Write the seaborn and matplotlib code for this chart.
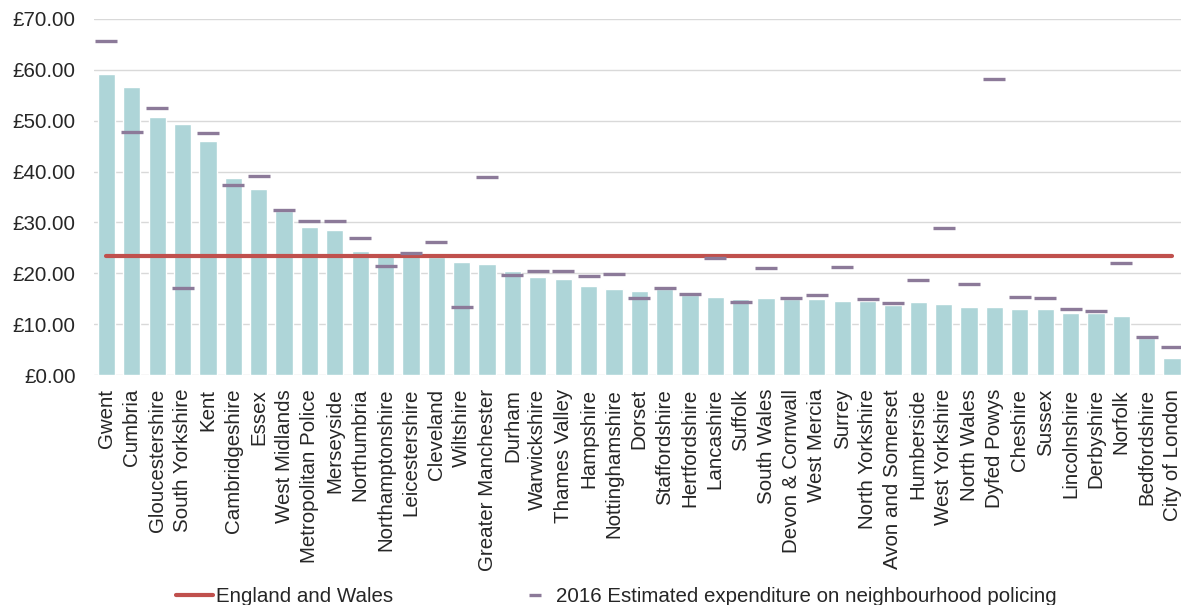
import matplotlib
matplotlib.use("Agg")
import matplotlib.pyplot as plt
import seaborn as sns
import pandas as pd
from matplotlib.ticker import FuncFormatter
from matplotlib.lines import Line2D

forces = ["Gwent", "Cumbria", "Gloucestershire", "South Yorkshire", "Kent",
          "Cambridgeshire", "Essex", "West Midlands", "Metropolitan Police",
          "Merseyside", "Northumbria", "Northamptonshire", "Leicestershire",
          "Cleveland", "Wiltshire", "Greater Manchester", "Durham",
          "Warwickshire", "Thames Valley", "Hampshire", "Nottinghamshire",
          "Dorset", "Staffordshire", "Hertfordshire", "Lancashire", "Suffolk",
          "South Wales", "Devon & Cornwall", "West Mercia", "Surrey",
          "North Yorkshire", "Avon and Somerset", "Humberside",
          "West Yorkshire", "North Wales", "Dyfed Powys", "Cheshire", "Sussex",
          "Lincolnshire", "Derbyshire", "Norfolk", "Bedfordshire",
          "City of London"]

spend_current = [59.2, 56.6, 50.7, 49.4, 46.1, 38.7, 36.6, 32.2, 29.2, 28.5,
                 24.4, 23.6, 23.5, 23.3, 22.3, 21.8, 20.5, 19.3, 18.9, 17.5,
                 16.9, 16.6, 16.9, 15.8, 15.4, 15.0, 15.1, 15.0, 14.9, 14.6,
                 14.6, 13.8, 14.4, 13.9, 13.4, 13.4, 13.0, 13.0, 12.3, 12.2,
                 11.6, 7.2, 3.4]

spend_2016 = [65.7, 47.8, 52.5, 17.2, 47.6, 37.4, 39.1, 32.5, 30.2, 30.2,
              26.9, 21.5, 23.9, 26.1, 13.3, 38.9, 19.7, 20.4, 20.4, 19.5,
              19.9, 15.1, 17.2, 16.0, 23.1, 14.4, 21.0, 15.1, 15.7, 21.3,
              14.9, 14.1, 18.7, 28.9, 17.9, 58.1, 15.4, 15.1, 13.0, 12.6,
              22.0, 7.5, 5.6]

england_wales = 23.5

series_labels = ["England and Wales",
                 "2016 Estimated expenditure on neighbourhood policing"]

df = pd.DataFrame({"force": forces, "current": spend_current,
                   "est2016": spend_2016,
                   "ew": [england_wales] * len(forces)})

sns.set_style("white")
plt.rcParams["font.family"] = ["Liberation Sans", "DejaVu Sans"]

BAR = "#AED5D8"
RED = "#C0504D"
PURPLE = "#8C7A99"
FS = 14.8

fig = plt.figure(figsize=(11.81, 6.05), dpi=100)
ax = fig.add_axes([93.8 / 1181, 0.380, (1184.7 - 93.8) / 1181, 0.5887])

sns.barplot(data=df, x="force", y="current", color=BAR, width=0.68,
            saturation=1, ax=ax, zorder=2)
sns.pointplot(data=df, x="force", y="ew", color=RED, markers="",
              linestyles="-", errorbar=None, ax=ax, zorder=3)
for ln in ax.lines:
    ln.set_linewidth(3.0)
sns.pointplot(data=df, x="force", y="est2016", color=PURPLE, markers="_",
              linestyles="none", errorbar=None, ax=ax, zorder=4,
              markersize=16, markeredgewidth=2.4)

ax.set_xlim(-0.5, len(forces) - 0.5)
ax.set_ylim(0, 70)
ax.set_yticks(range(0, 71, 10))
ax.yaxis.set_major_formatter(FuncFormatter(lambda v, p: "£%.2f" % v))
ax.grid(axis="y", color="#D9D9D9", linewidth=1.0, zorder=0)
ax.set_axisbelow(True)
for s in ax.spines.values():
    s.set_visible(False)
ax.set_xlabel("")
ax.set_ylabel("")
ax.tick_params(axis="y", length=0, pad=13, labelsize=FS)
ax.tick_params(axis="x", length=0, pad=10, labelsize=FS, labelrotation=90)

handles = [Line2D([], [], color=RED, linewidth=3.0),
           Line2D([], [], color=PURPLE, linestyle="none", marker="_",
                  markersize=9, markeredgewidth=2.4)]
fig.legend(handles, series_labels, loc="center", ncol=2,
           bbox_to_anchor=(0.522, 0.014), frameon=False, fontsize=FS,
           handlelength=1.8, handletextpad=0.15, columnspacing=6.0,
           borderpad=0.1)

fig.savefig("out.png", dpi=100)
